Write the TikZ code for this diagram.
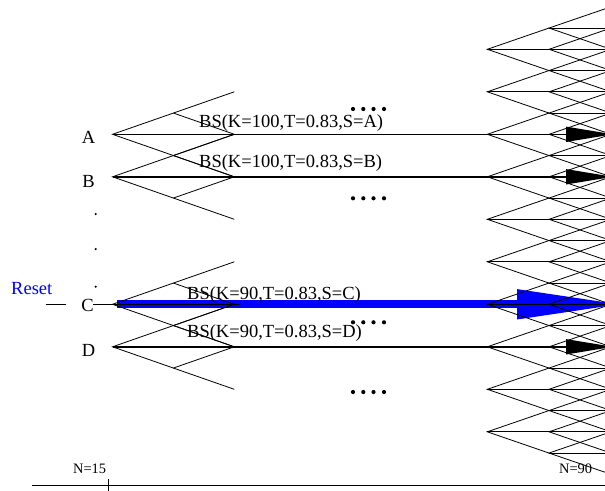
\documentclass[tikz,border=0pt]{standalone}
\usepackage{fontspec}
\setmainfont{Liberation Serif}
\usetikzlibrary{arrows.meta}
\begin{document}
\begin{tikzpicture}[x=1pt,y=-1pt,
  lat/.style={line width=0.8pt,black},
  bigtxt/.style={inner sep=0pt,font=\fontsize{18.5}{20}\selectfont},
  smalltxt/.style={inner sep=0pt,font=\fontsize{14.4}{16}\selectfont},
  blackarrow/.style={line width=1.5pt,black,-{Triangle[length=47pt,width=15pt]}},
  bluearrow/.style={line width=8pt,blue,-{Triangle[length=105pt,width=28pt]}},
  bigdot/.style={fill=black},
]
\useasboundingbox (0,0) rectangle (605,490);
\clip (0,0) rectangle (605,490);

% ---- blue reset arrow (drawn first, lattice shows over it)
\coordinate (Cs) at (117,304.3);
\coordinate (Ce) at (622,304.3);
\draw[bluearrow] (Cs) -- (Ce);

% ---- left binomial trees
\foreach \n/\y in {A/134.3,B/176.8,C/304.3,D/346.8} {
  \coordinate (\n0) at (112.5,\y);
  \coordinate (\n u) at (173.4,\y-21.25);
  \coordinate (\n d) at (173.4,\y+21.25);
  \coordinate (\n uu) at (234.3,\y-42.5);
  \coordinate (\n m) at (234.3,\y);
  \coordinate (\n dd) at (234.3,\y+42.5);
  \draw[lat] (\n uu) -- (\n u) -- (\n0) -- (\n d) -- (\n dd);
  \draw[lat] (\n u) -- (\n m) -- (\n d);
}

% ---- right lattice
\foreach \k in {0,...,9} {
  \pgfmathsetmacro\yy{49.3+42.5*\k}
  \coordinate (R\k) at (487.3,\yy);
  \coordinate (Ru\k) at (549,\yy-21.25);
  \coordinate (Rd\k) at (549,\yy+21.25);
  \coordinate (Rh\k) at (611,\yy);
  \draw[lat] (Ru\k) -- (R\k) -- (Rd\k);
  \draw[lat] (R\k) -- (Rh\k);
}
\foreach \j in {0,...,20} {
  \pgfmathsetmacro\yy{28.05+21.25*\j}
  \coordinate (M\j) at (549,\yy);
  \coordinate (Mu\j) at (611,\yy-21.25);
  \coordinate (Md\j) at (611,\yy+21.25);
  \coordinate (Mh\j) at (611,\yy);
  \draw[lat] (Mu\j) -- (M\j) -- (Md\j);
  \draw[lat] (M\j) -- (Mh\j);
}

% ---- black arrows
\foreach \n/\y in {A/134.3,B/176.8,D/346.8} {
  \coordinate (\n e) at (613,\y);
  \draw[blackarrow] (\n0) -- (\n e);
}

% ---- C line and reset mark
\coordinate (Cl) at (93,304.3);
\coordinate (Cr) at (240,304.3);
\draw[lat] (Cl) -- (Cr);
\coordinate (r1) at (46,304.3);
\coordinate (r2) at (66,304.3);
\draw[line width=1.2pt] (r1) -- (r2);

% ---- labels
\node[bigtxt,anchor=base] (lA) at (88.5,143) {A};
\node[bigtxt,anchor=base] (lB) at (88.5,187) {B};
\node[bigtxt,anchor=base] (lC) at (87.5,311) {C};
\node[bigtxt,anchor=base] (lD) at (88.5,356) {D};
\node[bigtxt,anchor=base west,text=blue] (reset) at (11,294) {Reset};

\node[bigtxt,anchor=base west] (bsA) at (199,127.7) {BS(K=100,T=0.83,S=A)};
\node[bigtxt,anchor=base west] (bsB) at (199,167.3) {BS(K=100,T=0.83,S=B)};
\node[bigtxt,anchor=base west] (bsC) at (187,299.3) {BS(K=90,T=0.83,S=C)};
\node[bigtxt,anchor=base west] (bsD) at (187,337.7) {BS(K=90,T=0.83,S=D)};

% ---- vertical ellipsis dots
\foreach \y in {214,249,286.7} \fill (95.7,\y) circle (1.2);

% ---- four-dot groups
\foreach \y in {109,198.3,322.3,392} {
  \foreach \x in {353,363.3,373.5,384} \fill[bigdot] (\x,\y) circle (2.1);
}

% ---- axis
\coordinate (ax0) at (32,485.7);
\coordinate (ax1) at (606,485.7);
\draw[line width=1pt] (ax0) -- (ax1);
\coordinate (t0) at (108.7,479);
\coordinate (t1) at (108.7,491);
\draw[line width=1pt] (t0) -- (t1);
\node[smalltxt,anchor=base west] (n15) at (73,473) {N=15};
\node[smalltxt,anchor=base west] (n90) at (559,473) {N=90};
\end{tikzpicture}
\end{document}
